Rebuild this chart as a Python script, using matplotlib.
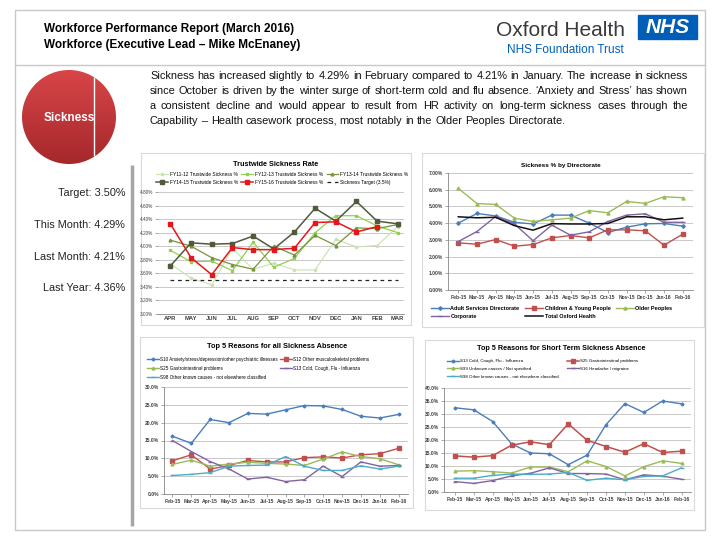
import numpy as np
import matplotlib.pyplot as plt
from matplotlib.patches import Rectangle, Circle
from matplotlib.colors import LinearSegmentedColormap
from matplotlib.ticker import FuncFormatter

W, H = 720, 540

# ---- data ----
fy_months = ['APR', 'MAY', 'JUN', 'JUL', 'AUG', 'SEP', 'OCT', 'NOV', 'DEC', 'JAN', 'FEB', 'MAR']
fy11 = [3.74, 3.53, 3.43, 3.97, 3.66, 3.75, 3.65, 3.65, 4.10, 3.99, 4.01, 4.29]
fy12 = [3.94, 3.77, 3.78, 3.64, 4.06, 3.69, 3.82, 4.20, 4.45, 4.45, 4.30, 4.20]
fy13 = [4.09, 4.00, 3.83, 3.73, 3.66, 4.00, 3.87, 4.16, 4.01, 4.27, 4.26, 4.32]
fy14 = [3.71, 4.05, 4.03, 4.04, 4.15, 3.96, 4.21, 4.56, 4.37, 4.66, 4.37, 4.33]
fy15 = [4.33, 3.83, 3.58, 3.98, 3.95, 3.95, 3.97, 4.35, 4.36, 4.21, 4.29]
target = 3.5

months = ['Feb-15', 'Mar-15', 'Apr-15', 'May-15', 'Jun-15', 'Jul-15', 'Aug-15',
          'Sep-15', 'Oct-15', 'Nov-15', 'Dec-15', 'Jan-16', 'Feb-16']
adult = [4.00, 4.58, 4.43, 4.05, 3.95, 4.48, 4.48, 4.00, 3.44, 3.76, 3.96, 3.98, 3.82]
children = [2.82, 2.74, 3.02, 2.62, 2.72, 3.12, 3.26, 3.12, 3.60, 3.60, 3.54, 2.68, 3.34]
older = [6.08, 5.17, 5.12, 4.30, 4.10, 4.20, 4.30, 4.75, 4.62, 5.30, 5.18, 5.58, 5.52]
corporate = [2.90, 3.50, 4.40, 3.95, 2.95, 3.88, 3.28, 3.48, 4.10, 4.48, 4.56, 4.05, 4.05]
total = [4.38, 4.32, 4.35, 3.85, 3.58, 3.97, 3.95, 3.95, 3.98, 4.38, 4.38, 4.20, 4.30]

all_s10 = [16.2, 14.2, 20.9, 20.0, 22.6, 22.4, 23.6, 24.8, 24.7, 23.7, 21.8, 21.3, 22.3]
all_s12 = [9.3, 11.0, 7.0, 8.0, 9.4, 9.0, 9.0, 10.2, 10.4, 10.1, 11.0, 11.3, 12.8]
all_s25 = [8.3, 9.5, 7.8, 8.4, 8.9, 8.6, 8.4, 8.0, 9.8, 11.8, 10.5, 9.9, 8.2]
all_s13 = [15.0, 11.9, 9.1, 7.0, 4.2, 4.7, 3.5, 4.0, 7.8, 4.9, 9.0, 7.8, 8.0]
all_s98 = [5.2, 5.5, 6.0, 7.8, 8.0, 8.1, 10.5, 7.8, 6.6, 6.6, 7.9, 7.0, 7.8]

st_s13 = [32.4, 31.6, 27.1, 18.5, 15.0, 14.7, 10.5, 14.2, 25.9, 34.0, 30.6, 35.0, 33.9]
st_s25 = [13.9, 13.4, 14.0, 18.0, 19.3, 18.2, 26.2, 19.9, 17.5, 15.3, 18.6, 15.2, 15.7]
st_s99 = [8.0, 8.2, 7.8, 7.3, 9.6, 9.6, 7.8, 12.0, 9.8, 6.2, 9.7, 12.0, 11.0]
st_s16 = [4.0, 3.3, 4.4, 6.2, 7.2, 9.3, 7.1, 7.1, 6.9, 4.7, 6.6, 6.1, 4.9]
st_s98 = [5.3, 5.3, 6.4, 6.9, 6.8, 6.9, 7.5, 4.5, 5.3, 4.7, 6.0, 6.2, 9.3]

para = ["Sickness has increased slightly to 4.29% in February compared to 4.21% in January. The increase in sickness",
        "since October is driven by the winter surge of short-term cold and flu absence.  \u2018Anxiety and Stress\u2019 has shown",
        "a consistent decline and would appear to result from HR activity on long-term sickness cases through the",
        "Capability \u2013 Health casework process, most notably in the Older Peoples Directorate."]
stats = ['Target: 3.50%', 'This Month: 4.29%', 'Last Month: 4.21%', 'Last Year: 4.36%']

plt.rcParams['font.family'] = ['Liberation Sans', 'DejaVu Sans']

fig = plt.figure(figsize=(7.2, 5.4), dpi=100)
bg = fig.add_axes([0, 0, 1, 1])
bg.set_xlim(0, W)
bg.set_ylim(H, 0)
bg.axis('off')

# frame of the slide
bg.add_patch(Rectangle((15, 10), 690, 520, fill=False, ec='#c8c8c8', lw=1))
bg.plot([15, 705], [65, 65], color='#c8c8c8', lw=1)
bg.plot([132, 132], [165, 526], color='#a6a6a6', lw=2.5, solid_capstyle='butt')

# header
bg.text(44, 29, 'Workforce Performance Report (March 2016)', fontsize=8.5, weight='bold', va='center')
bg.text(44, 45, 'Workforce (Executive Lead \u2013 Mike McEnaney)', fontsize=8.5, weight='bold', va='center')
bg.text(496, 30, 'Oxford Health', fontsize=15, color='#3a3a3a', va='center')
bg.add_patch(Rectangle((638, 15), 59, 24, color='#005eb8'))
bg.text(667.5, 27.5, 'NHS', fontsize=15, color='white', weight='bold', style='italic',
        ha='center', va='center')
bg.text(565, 50, 'NHS Foundation Trust', fontsize=8.5, color='#005eb8', ha='center', va='center')

# red circle with a vertical gradient
circ = Circle((69, 117), 47, ec='none', fc='none')
bg.add_patch(circ)
grad = np.linspace(0, 1, 100).reshape(-1, 1)
cm = LinearSegmentedColormap.from_list('red', ['#d84548', '#a5282b'])
im = bg.imshow(grad, cmap=cm, extent=(22, 116, 164, 70), aspect='auto', zorder=1)
im.set_clip_path(circ)
bg.set_xlim(0, W)
bg.set_ylim(H, 0)
bg.plot([94, 94], [78, 155], color='white', lw=1, zorder=2)
bg.text(69, 118, 'Sickness', fontsize=8.5, color='white', weight='bold', ha='center', va='center', zorder=3)

for s, y in zip(stats, [193, 225, 257, 288]):
    bg.text(125, y, s, fontsize=7.8, ha='right', va='center', color='#222222')

# justified paragraph
rend = fig.canvas.get_renderer()
PFS = 7.9
def width_of(s):
    t = bg.text(0, 0, s, fontsize=PFS)
    w = t.get_window_extent(rend).width
    t.remove()
    return w

space = width_of('a b') - width_of('ab')
def justify(line, x0, x1, y, last=False):
    words = line.split()
    ts = [bg.text(x0, y, w, fontsize=PFS, va='center', color='#111111') for w in words]
    ws = [t.get_window_extent(rend).width for t in ts]
    gap = space if last else (x1 - x0 - sum(ws)) / (len(words) - 1)
    x = x0
    for t, w in zip(ts, ws):
        t.set_x(x)
        x += w + gap

for i, (line, y) in enumerate(zip(para, [76, 91, 106, 121])):
    justify(line, 150, 688, y, last=(i == 3))

# chart frames
for x0, y0, x1, y1 in [(141, 153, 411, 325), (422, 153, 704, 327), (140, 337, 413, 508), (425, 340, 694, 510)]:
    bg.add_patch(Rectangle((x0, y0), x1 - x0, y1 - y0, fill=False, ec='#d9d9d9', lw=0.8))


def panel(x0, y0, x1, y1):
    ax = fig.add_axes([x0 / W, 1 - y1 / H, (x1 - x0) / W, (y1 - y0) / H])
    ax.set_facecolor('none')
    for s in ['top', 'right']:
        ax.spines[s].set_visible(False)
    for s in ['left', 'bottom']:
        ax.spines[s].set_color('#868686')
        ax.spines[s].set_linewidth(0.6)
    ax.grid(axis='y', color='#c0c0c0', lw=0.6)
    ax.set_axisbelow(True)
    ax.tick_params(axis='both', length=2, width=0.5, color='#868686', labelsize=3.6,
                   labelcolor='#404040', pad=1.5)
    return ax


def legend_at(ax, handles, ncol, x, y, size, **kw):
    ax.legend(handles, [hh.get_label() for hh in handles], ncol=ncol, loc='upper left',
              bbox_to_anchor=(x, y), bbox_transform=bg.transData, borderaxespad=0,
              borderpad=0, frameon=False, prop={'size': size, **kw.pop('prop', {})}, **kw)


# ---- chart 1: trustwide sickness rate ----
ax1 = panel(158, 192, 404, 314)
x = np.arange(len(fy_months))
h = []
h += ax1.plot(x, fy11, color='#c9e2b0', lw=0.8, marker='o', ms=1.5, label='FY11-12 Trustwide Sickness %')
h += ax1.plot(x, fy12, color='#92d050', lw=0.9, marker='s', ms=2, label='FY12-13 Trustwide Sickness %')
h += ax1.plot(x, fy13, color='#77933c', lw=0.9, marker='^', ms=2, label='FY13-14 Trustwide Sickness %')
h += ax1.plot(x, fy14, color='#4f5b3a', lw=1.1, marker='s', ms=2.5, label='FY14-15 Trustwide Sickness %')
h += ax1.plot(np.arange(len(fy15)), fy15, color='#e3171b', lw=1.1, marker='s', ms=2.5,
              label='FY15-16 Trustwide Sickness %')
h += ax1.plot(x, [target] * len(x), color='#222222', lw=0.9, ls=(0, (3, 3)), label='Sickness Target (3.5%)')
ax1.set_xlim(-0.6, 11.3)
ax1.set_ylim(3.0, 4.8)
ax1.set_yticks(np.arange(3.0, 4.81, 0.2))
ax1.yaxis.set_major_formatter(FuncFormatter(lambda v, p: f'{v:.2f}%'))
ax1.set_xticks(x)
ax1.set_xticklabels(fy_months, fontsize=4.2, fontweight='bold')
ax1.tick_params(axis='x', length=0)
ax1.tick_params(axis='y', labelsize=3.4)
ax1.spines['left'].set_visible(False)
legend_at(ax1, [h[i] for i in [0, 3, 1, 4, 2, 5]], 3, 156, 172, 3.5,
          handlelength=2.4, columnspacing=0.7, handletextpad=0.4, labelspacing=0.6)
bg.text(276, 164, 'Trustwide Sickness Rate', fontsize=5.2, weight='bold', ha='center', va='center')

# ---- chart 2: by directorate ----
ax2 = panel(448, 173, 693, 290)
x = np.arange(len(months))
h2 = []
h2 += ax2.plot(x, adult, color='#4a7ebb', lw=1, marker='D', ms=1.8, label='Adult Services Directorate')
h2 += ax2.plot(x, children, color='#c0504d', lw=1, marker='s', ms=2.2, label='Children & Young People')
h2 += ax2.plot(x, older, color='#9bbb59', lw=1, marker='^', ms=2.2, label='Older Peoples')
h2 += ax2.plot(x, corporate, color='#8064a2', lw=1, marker='_', ms=3, label='Corporate')
h2 += ax2.plot(x, total, color='#111111', lw=1.1, label='Total Oxford Health')
ax2.set_xlim(-0.55, 12.55)
ax2.set_ylim(0, 7)
ax2.set_yticks(np.arange(0, 7.01, 1))
ax2.yaxis.set_major_formatter(FuncFormatter(lambda v, p: f'{v:.2f}%'))
ax2.set_xticks(x)
ax2.set_xticklabels(months)
for lab in ax2.get_xticklabels() + ax2.get_yticklabels():
    lab.set_fontweight('bold')
legend_at(ax2, [h2[i] for i in [0, 3, 1, 4, 2]], 3, 431, 306, 4.0,
          handlelength=3.2, columnspacing=1.0, handletextpad=0.3, labelspacing=0.6,
          prop={'weight': 'bold'})
bg.text(561, 165, 'Sickness % by Directorate', fontsize=4.6, weight='bold', ha='center', va='center')

# ---- chart 3: top 5 reasons, all absence ----
ax3 = panel(164, 387, 408, 494)
h3 = []
h3 += ax3.plot(x, all_s10, color='#4a7ebb', lw=1, marker='D', ms=1.5, label='S10 Anxiety/stress/depression/other psychiatric illnesses')
h3 += ax3.plot(x, all_s12, color='#c0504d', lw=1, marker='s', ms=2.2, label='S12 Other musculoskeletal problems')
h3 += ax3.plot(x, all_s25, color='#9bbb59', lw=1, marker='^', ms=2, label='S25 Gastrointestinal problems')
h3 += ax3.plot(x, all_s13, color='#8064a2', lw=1, marker='_', ms=2.5, label='S13 Cold, Cough, Flu - Influenza')
h3 += ax3.plot(x, all_s98, color='#4bacc6', lw=1, marker='_', ms=2.5, label='S98 Other known causes - not elsewhere classified')
ax3.set_xlim(-0.45, 12.5)
ax3.set_ylim(0, 30)
ax3.set_yticks(np.arange(0, 30.1, 5))
ax3.yaxis.set_major_formatter(FuncFormatter(lambda v, p: f'{v:.1f}%'))
ax3.set_xticks(x)
ax3.set_xticklabels(months)
for lab in ax3.get_xticklabels() + ax3.get_yticklabels():
    lab.set_fontweight('bold')
legend_at(ax3, [h3[i] for i in [0, 2, 4, 1, 3]], 2, 147, 357, 3.3,
          handlelength=2.6, columnspacing=0.4, handletextpad=0.3, labelspacing=0.85)
bg.text(277, 347, 'Top 5 Reasons for all Sickness Absence', fontsize=5.3, weight='bold', ha='center', va='center')

# ---- chart 4: top 5 reasons, short term ----
ax4 = panel(444, 388, 691, 492)
h4 = []
h4 += ax4.plot(x, st_s13, color='#4a7ebb', lw=1, marker='D', ms=1.5, label='S13 Cold, Cough, Flu - Influenza')
h4 += ax4.plot(x, st_s25, color='#c0504d', lw=1.1, marker='s', ms=2.5, label='S25 Gastrointestinal problems')
h4 += ax4.plot(x, st_s99, color='#9bbb59', lw=1, marker='^', ms=2, label='S99 Unknown causes / Not specified')
h4 += ax4.plot(x, st_s16, color='#8064a2', lw=1, marker='_', ms=2.5, label='S16 Headache / migraine')
h4 += ax4.plot(x, st_s98, color='#4bacc6', lw=1, marker='_', ms=2.5, label='S98 Other known causes - not elsewhere classified')
ax4.set_xlim(-0.58, 12.5)
ax4.set_ylim(0, 40)
ax4.set_yticks(np.arange(0, 40.1, 5))
ax4.yaxis.set_major_formatter(FuncFormatter(lambda v, p: f'{v:.1f}%'))
ax4.set_xticks(x)
ax4.set_xticklabels(months)
for lab in ax4.get_xticklabels() + ax4.get_yticklabels():
    lab.set_fontweight('bold')
legend_at(ax4, [h4[i] for i in [0, 2, 4, 1, 3]], 2, 447, 359, 3.2,
          handlelength=2.6, columnspacing=2.0, handletextpad=0.3, labelspacing=0.85)
bg.text(561, 348, 'Top 5 Reasons for Short Term Sickness Absence', fontsize=5.2, weight='bold', ha='center', va='center')

fig.savefig('out.png', dpi=100)
